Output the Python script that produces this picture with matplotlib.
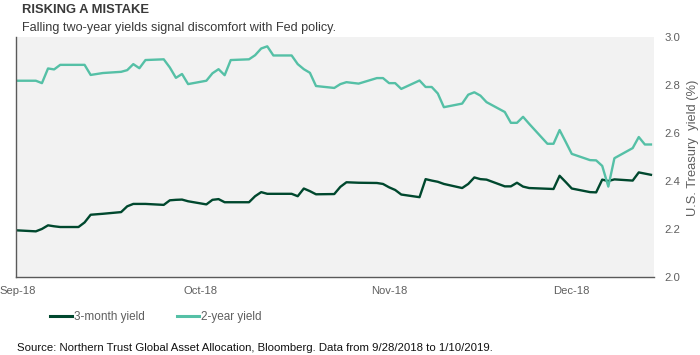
import matplotlib
matplotlib.use('Agg')
import matplotlib.pyplot as plt
import matplotlib.dates as mdates
from matplotlib import font_manager as fm
import pandas as pd

# ---------------- data ----------------
start_date = '2018-09-28'
end_date = '2019-01-10'

three_month = [
    2.195,
    2.191, 2.201, 2.216, 2.212, 2.209,
    2.209, 2.228, 2.260, 2.262, 2.264,
    2.271, 2.295, 2.305, 2.305, 2.305,
    2.301, 2.320, 2.322, 2.323, 2.316,
    2.303, 2.322, 2.325,
    2.312, 2.312,
    2.312, 2.337, 2.354, 2.347, 2.347,
    2.347, 2.337, 2.369, 2.358, 2.345,
    2.346, 2.376, 2.395, 2.394, 2.393,
    2.392, 2.388, 2.374, 2.363, 2.344,
    2.333, 2.408, 2.402, 2.397, 2.388,
    2.371, 2.388, 2.415, 2.408, 2.406,
    2.378, 2.378, 2.393, 2.377, 2.371,
    2.368, 2.367, 2.422, 2.396, 2.369,
    2.354,
    2.353, 2.406, 2.400, 2.407,
    2.402, 2.436, 2.431, 2.426,
]

two_year = [
    2.817,
    2.817, 2.807, 2.868, 2.864, 2.883,
    2.883, 2.883, 2.841, 2.845, 2.849,
    2.854, 2.861, 2.886, 2.869, 2.903,
    2.906, 2.872, 2.829, 2.845, 2.803,
    2.817, 2.848, 2.865,
    2.840, 2.903,
    2.906, 2.923, 2.951, 2.960, 2.922,
    2.922, 2.886, 2.865, 2.850, 2.795,
    2.787, 2.803, 2.811, 2.808, 2.805,
    2.828, 2.828, 2.807, 2.807, 2.783,
    2.818, 2.791, 2.791, 2.764, 2.707,
    2.722, 2.759, 2.769, 2.755, 2.728,
    2.687, 2.642, 2.642, 2.667, 2.638,
    2.555, 2.555, 2.612, 2.563, 2.513,
    2.487,
    2.486, 2.463, 2.377, 2.495,
    2.537, 2.583, 2.552, 2.552,
]

series_labels = ['3-month yield', '2-year yield']
tick_dates = ['2018-09-28', '2018-10-28', '2018-11-28', '2018-12-28']
tick_labels = ['Sep-18', 'Oct-18', 'Nov-18', 'Dec-18']
y_ticks = [2.0, 2.2, 2.4, 2.6, 2.8, 3.0]

title = 'RISKING A MISTAKE'
subtitle = 'Falling two-year yields signal discomfort with Fed policy.'
y_label = 'U.S. Treasury  yield (%)'
source = 'Source: Northern Trust Global Asset Allocation, Bloomberg. Data from 9/28/2018 to 1/10/2019.'

# ---------------- style ----------------
REG = fm.FontProperties(family=['Liberation Sans', 'DejaVu Sans'])
BOLD = fm.FontProperties(family=['Liberation Sans', 'DejaVu Sans'], weight='bold')

W, H = 700, 355
fig = plt.figure(figsize=(W / 100, H / 100), dpi=100)
renderer = fig.canvas.get_renderer()


def fp(base, size):
    p = base.copy()
    p.set_size(size)
    return p


def fit(s, target, base=REG, boost=1.0):
    t = fig.text(0, 0, s, fontproperties=fp(base, 10))
    w = t.get_window_extent(renderer).width
    t.remove()
    return 10 * target / w * boost


PX = 100 / 72.0

left, right, top, bottom = 16, 654.3, 36.7, 277.3
ax = fig.add_axes([left / W, 1 - bottom / H, (right - left) / W, (bottom - top) / H])
ax.set_facecolor('#f2f2f2')

dates = pd.bdate_range(start_date, end_date)
ax.plot(dates, three_month, color='#00482e', lw=1.7, label=series_labels[0], solid_joinstyle='round')
ax.plot(dates, two_year, color='#55c0a6', lw=1.7, label=series_labels[1], solid_joinstyle='round')

d0 = mdates.date2num(pd.Timestamp(start_date))
ax.set_xlim(d0 - 0.26, d0 + 104.55)
ax.set_ylim(2.0, 3.0)

gray = '#5f5f5f'
xfs = fit('Oct-18', 32, boost=1.06)
ax.set_xticks([mdates.date2num(pd.Timestamp(d)) for d in tick_dates])
ax.set_xticklabels(tick_labels, fontproperties=fp(REG, xfs), color=gray)
ax.tick_params(axis='x', length=0, pad=6.5)

yfs = fit('2.8', 15, boost=1.06)
ax.yaxis.tick_right()
ax.set_yticks(y_ticks)
ax.set_yticklabels([f'{v:.1f}' for v in y_ticks], fontproperties=fp(REG, yfs), color=gray)
ax.tick_params(axis='y', length=0, pad=7.5)

ylfs = fit(y_label, 137)
ax.set_ylabel(y_label, fontproperties=fp(REG, ylfs), color=gray, rotation=90)
ax.yaxis.set_label_position('right')
ax.yaxis.label.set_va('center')
ax.yaxis.label.set_ha('center')
ax.yaxis.label.set_rotation_mode('anchor')
ax.yaxis.set_label_coords((693 - left) / (right - left), (bottom - 148) / (bottom - top))

for s in ['top', 'right']:
    ax.spines[s].set_visible(False)
for s in ['left', 'bottom']:
    ax.spines[s].set_color('#5a5a5a')
    ax.spines[s].set_linewidth(1.0)

# titles
tfs = fit(title, 122, base=BOLD, boost=1.04)
fig.text(22 / W, 1 - 13.3 / H, title, fontproperties=fp(BOLD, tfs),
         color='#3a3a3a', va='baseline', ha='left')
sfs = fit(subtitle, 303, boost=1.04)
fig.text(22 / W, 1 - 30.5 / H, subtitle, fontproperties=fp(REG, sfs),
         color='#3a3a3a', va='baseline', ha='left')

# legend
lfs = fit(series_labels[0], 68, boost=1.04)
lpx = lfs * PX
handles, labels = ax.get_legend_handles_labels()
leg = fig.legend(handles, labels, loc='center left', bbox_to_anchor=(50 / W, 1 - 317 / H),
                 ncol=2, frameon=False, borderpad=0, borderaxespad=0,
                 handlelength=22 / lpx, handletextpad=2 / lpx, columnspacing=32 / lpx,
                 prop=fp(REG, lfs))
for t in leg.get_texts():
    t.set_color(gray)
for l in leg.get_lines():
    l.set_linewidth(2.2)

# source
prefix = source.split('/2019.')[0]
srcfs = fit(prefix, 443)
fig.text(17 / W, 1 - 351 / H, source, fontproperties=fp(REG, srcfs),
         color='#111111', va='baseline', ha='left')

fig.savefig('out.png', dpi=100)
